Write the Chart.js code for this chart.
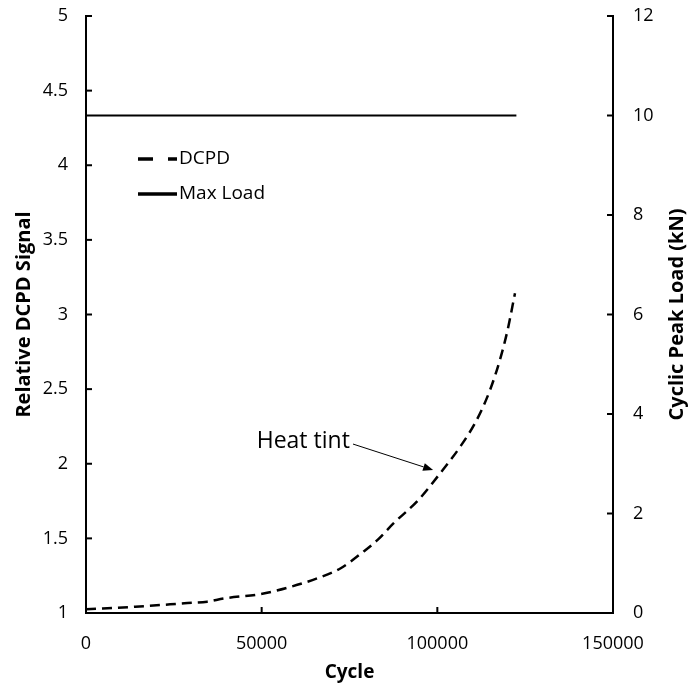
<!DOCTYPE html>
<html>
<head>
<meta charset="utf-8">
<script src="https://cdn.jsdelivr.net/npm/chart.js@4/dist/chart.umd.min.js"></script>
<style>
  html, body { margin: 0; padding: 0; background: #fff; }
  #wrap { width: 700px; height: 686px; position: relative; }
</style>
</head>
<body>
<div id="wrap"><canvas id="chart"></canvas></div>
<script>
// Data
const dcpdCycles = [0, 14000, 28000, 34500, 39300, 49700, 58300, 65800, 72500, 78900, 83000, 87500, 94600, 100800, 106500, 111200, 115000, 117800, 120000, 122100];
const dcpdSignal = [1.025, 1.042, 1.065, 1.076, 1.098, 1.127, 1.176, 1.232, 1.30, 1.41, 1.49, 1.60, 1.757, 1.936, 2.114, 2.293, 2.494, 2.695, 2.896, 3.142];
const loadCycles = [0, 122500];
const loadValues = [10, 10];
const seriesLabels = ["DCPD", "Max Load"];
const xTitle = "Cycle";
const yTitle = "Relative DCPD Signal";
const y1Title = "Cyclic Peak Load (kN)";

// Annotation: text anchor, arrow tail, arrow tip (cycle, signal)
const noteText = "Heat tint";
const noteAt = [75100, 2.152];
const arrowFrom = [76000, 2.132];
const arrowTo = [98800, 1.958];

const FONT = "'Open Sans', 'Noto Sans', sans-serif";
Chart.defaults.font.family = FONT;
Chart.defaults.color = "#000";

// Inward tick marks on every axis
const innerTicks = {
  id: "innerTicks",
  afterDraw(chart) {
    const { ctx, chartArea } = chart;
    ctx.save();
    ctx.strokeStyle = "#000";
    ctx.lineWidth = 2;
    const len = 6;
    chart.scales.x.ticks.forEach(t => {
      const px = chart.scales.x.getPixelForValue(t.value);
      ctx.beginPath();
      ctx.moveTo(px, chartArea.bottom);
      ctx.lineTo(px, chartArea.bottom - len);
      ctx.stroke();
    });
    chart.scales.y.ticks.forEach(t => {
      const py = chart.scales.y.getPixelForValue(t.value);
      ctx.beginPath();
      ctx.moveTo(chartArea.left, py);
      ctx.lineTo(chartArea.left + len, py);
      ctx.stroke();
    });
    chart.scales.y1.ticks.forEach(t => {
      const py = chart.scales.y1.getPixelForValue(t.value);
      ctx.beginPath();
      ctx.moveTo(chartArea.right, py);
      ctx.lineTo(chartArea.right - len, py);
      ctx.stroke();
    });
    ctx.restore();
  }
};

// Legend inside the plot, right axis title, heat tint note
const extras = {
  id: "extras",
  afterDraw(chart) {
    const { ctx, chartArea } = chart;
    const xs = chart.scales.x, ys = chart.scales.y;
    ctx.save();

    // legend
    const lx = chartArea.left + 52;
    const rows = [chartArea.top + 143, chartArea.top + 178];
    chart.data.datasets.forEach((ds, i) => {
      const y = rows[i];
      ctx.strokeStyle = "#000";
      ctx.lineWidth = 3.5;
      ctx.setLineDash(ds.borderDash ? [15, 15] : []);
      ctx.beginPath();
      ctx.moveTo(lx, y);
      ctx.lineTo(lx + 39, y);
      ctx.stroke();
      ctx.setLineDash([]);
      ctx.fillStyle = "#000";
      ctx.font = "19px " + FONT;
      ctx.textAlign = "left";
      ctx.textBaseline = "middle";
      ctx.fillText(ds.label, lx + 41, y);
    });

    // right axis title, reading bottom to top
    const cy = (chartArea.top + chartArea.bottom) / 2;
    ctx.translate(677, cy);
    ctx.rotate(-Math.PI / 2);
    ctx.font = "bold 20px " + FONT;
    ctx.textAlign = "center";
    ctx.textBaseline = "middle";
    ctx.fillText(y1Title, 0, 0);
    ctx.setTransform(1, 0, 0, 1, 0, 0);

    // note
    ctx.font = "23px " + FONT;
    ctx.textAlign = "right";
    ctx.textBaseline = "middle";
    ctx.fillText(noteText, xs.getPixelForValue(noteAt[0]), ys.getPixelForValue(noteAt[1]));
    const x0 = xs.getPixelForValue(arrowFrom[0]), y0 = ys.getPixelForValue(arrowFrom[1]);
    const x1 = xs.getPixelForValue(arrowTo[0]), y1 = ys.getPixelForValue(arrowTo[1]);
    const ang = Math.atan2(y1 - y0, x1 - x0);
    const hl = 10, hw = 4;
    ctx.lineWidth = 1;
    ctx.beginPath();
    ctx.moveTo(x0, y0);
    ctx.lineTo(x1 - hl * Math.cos(ang), y1 - hl * Math.sin(ang));
    ctx.stroke();
    ctx.beginPath();
    ctx.moveTo(x1, y1);
    ctx.lineTo(x1 - hl * Math.cos(ang) + hw * Math.sin(ang), y1 - hl * Math.sin(ang) - hw * Math.cos(ang));
    ctx.lineTo(x1 - hl * Math.cos(ang) - hw * Math.sin(ang), y1 - hl * Math.sin(ang) + hw * Math.cos(ang));
    ctx.closePath();
    ctx.fill();
    ctx.restore();
  }
};

// fixed axis boxes so the plot area sits where the reference has it
function fixVertical(width) {
  return s => {
    s.width = width;
    s.paddingTop = 0;
    s.paddingBottom = 0;
  };
}

const ctx = document.getElementById("chart").getContext("2d");

new Chart(ctx, {
  type: "scatter",
  data: {
    datasets: [
      {
        label: seriesLabels[0],
        data: dcpdCycles.map((c, i) => ({ x: c, y: dcpdSignal[i] })),
        yAxisID: "y",
        showLine: true,
        borderColor: "#000",
        borderWidth: 2.5,
        borderDash: [10, 6],
        pointRadius: 0,
        cubicInterpolationMode: "monotone",
      },
      {
        label: seriesLabels[1],
        data: loadCycles.map((c, i) => ({ x: c, y: loadValues[i] })),
        yAxisID: "y1",
        showLine: true,
        borderColor: "#000",
        borderWidth: 2,
        pointRadius: 0,
      },
    ],
  },
  options: {
    responsive: true,
    maintainAspectRatio: false,
    animation: false,
    layout: { padding: { top: 16, left: 0, right: 0, bottom: 0 } },
    plugins: {
      legend: { display: false },
      tooltip: { enabled: false },
    },
    scales: {
      x: {
        type: "linear",
        min: 0,
        max: 150000,
        afterFit: s => { s.height = 73; },
        ticks: { stepSize: 50000, padding: 20, font: { size: 18 }, callback: v => String(v) },
        grid: { display: false, drawTicks: false },
        border: { display: true, color: "#000", width: 2 },
        title: { display: true, text: xTitle, font: { size: 19, weight: "bold" }, padding: { bottom: 2, top: 0 } },
      },
      y: {
        position: "left",
        min: 1,
        max: 5,
        afterFit: fixVertical(86),
        ticks: { stepSize: 0.5, padding: 18, font: { size: 18 }, callback: v => String(v) },
        grid: { display: false, drawTicks: false },
        border: { display: true, color: "#000", width: 2 },
        title: { display: true, text: yTitle, font: { size: 20, weight: "bold" }, padding: { top: 12, bottom: 0 } },
      },
      y1: {
        position: "right",
        min: 0,
        max: 12,
        afterFit: fixVertical(87),
        ticks: { stepSize: 2, padding: 20, font: { size: 18 }, callback: v => String(v) },
        grid: { display: false, drawTicks: false },
        border: { display: true, color: "#000", width: 2 },
      },
    },
  },
  plugins: [innerTicks, extras],
});
</script>
</body>
</html>
